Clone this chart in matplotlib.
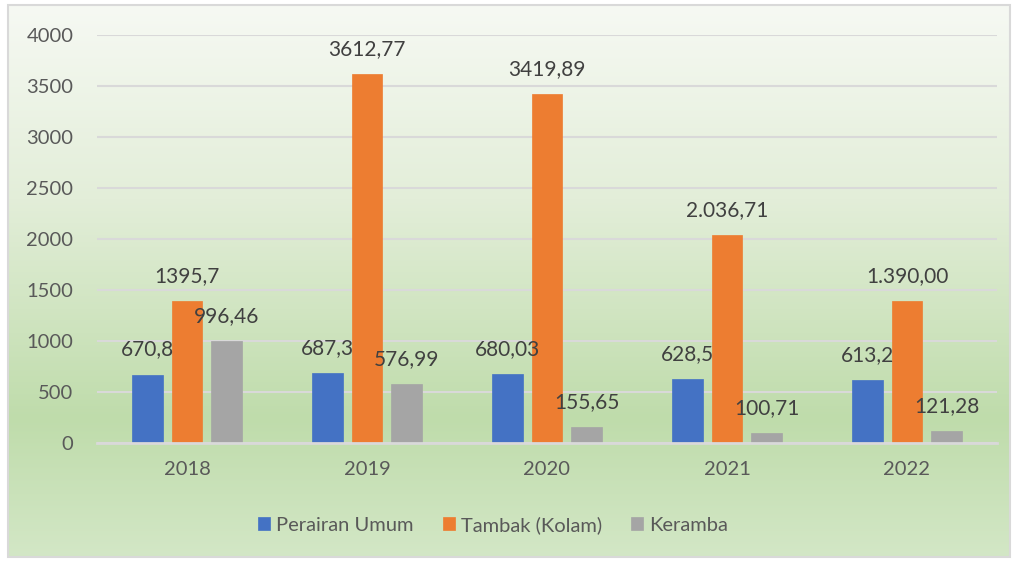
import matplotlib.pyplot as plt
import numpy as np
from matplotlib.colors import LinearSegmentedColormap
from matplotlib.patches import Rectangle

years = ["2018", "2019", "2020", "2021", "2022"]
series_names = ["Perairan Umum", "Tambak (Kolam)", "Keramba"]
perairan_umum = [670.8, 687.3, 680.03, 628.5, 613.2]
tambak = [1395.7, 3612.77, 3419.89, 2036.71, 1390.00]
keramba = [996.46, 576.99, 155.65, 100.71, 121.28]
label_texts = [
    ["670,8", "687,3", "680,03", "628,5", "613,2"],
    ["1395,7", "3612,77", "3419,89", "2.036,71", "1.390,00"],
    ["996,46", "576,99", "155,65", "100,71", "121,28"],
]
colors = ["#4472C4", "#ED7D31", "#A5A5A5"]

plt.rcParams["font.family"] = ["Lato", "DejaVu Sans"]

W, H = 1019, 562
fig = plt.figure(figsize=(W / 100, H / 100), dpi=100, facecolor="white")

# chart area background with vertical green gradient
bg = fig.add_axes([8 / W, 5 / H, 1002 / W, 552 / H], zorder=0)
grad = LinearSegmentedColormap.from_list(
    "bg", [(0.0, "#f6f9f3"), (0.35, "#e3eed9"), (0.75, "#bfdcab"), (1.0, "#d3e7c6")]
)
bg.imshow(np.linspace(0, 1, 256).reshape(-1, 1), aspect="auto", cmap=grad,
          extent=[0, 1, 0, 1], origin="upper")
bg.set_xlim(0, 1)
bg.set_ylim(0, 1)
bg.axis("off")
bg.add_patch(Rectangle((0, 0), 1, 1, transform=bg.transAxes, fill=False,
                       edgecolor="#d9d9d9", linewidth=1.5, clip_on=False))

ax = fig.add_axes([97 / W, (H - 443) / H, 900 / W, 408 / H], zorder=1)
ax.set_facecolor("none")

x = np.arange(len(years))
width = 0.172
step = 0.222
for i, (vals, name, col) in enumerate(zip([perairan_umum, tambak, keramba], series_names, colors)):
    pos = x + (i - 1) * step
    ax.bar(pos, vals, width, color=col, label=name, zorder=2,
           edgecolor=col, linewidth=0.5)
    for px, v, t in zip(pos, vals, label_texts[i]):
        ax.annotate(t, (px, v), xytext=(0, 18), textcoords="offset points",
                    ha="center", va="center", fontsize=15, color="#404040", zorder=3)

ax.set_xlim(-0.5, 4.5)
ax.set_ylim(0, 4000)
ax.set_yticks(np.arange(0, 4001, 500))
ax.set_xticks(x)
ax.set_xticklabels(years)
ax.grid(axis="y", color="#d9d9d9", linewidth=1.5, zorder=0)
ax.set_axisbelow(True)
for s in ["top", "right", "left"]:
    ax.spines[s].set_visible(False)
ax.spines["bottom"].set_color("#d9d9d9")
ax.spines["bottom"].set_linewidth(2)
ax.tick_params(axis="both", length=0, labelsize=14.5, labelcolor="#595959")
ax.tick_params(axis="y", pad=17)
ax.tick_params(axis="x", pad=13)

ax.legend(loc="center", bbox_to_anchor=(493 / W, (H - 525) / H),
          bbox_transform=fig.transFigure, ncol=3, frameon=False,
          fontsize=14.5, labelcolor="#595959", handlelength=0.6, handleheight=0.6,
          handletextpad=0.3, columnspacing=1.45)

fig.savefig("out.png", dpi=100, facecolor="white")
